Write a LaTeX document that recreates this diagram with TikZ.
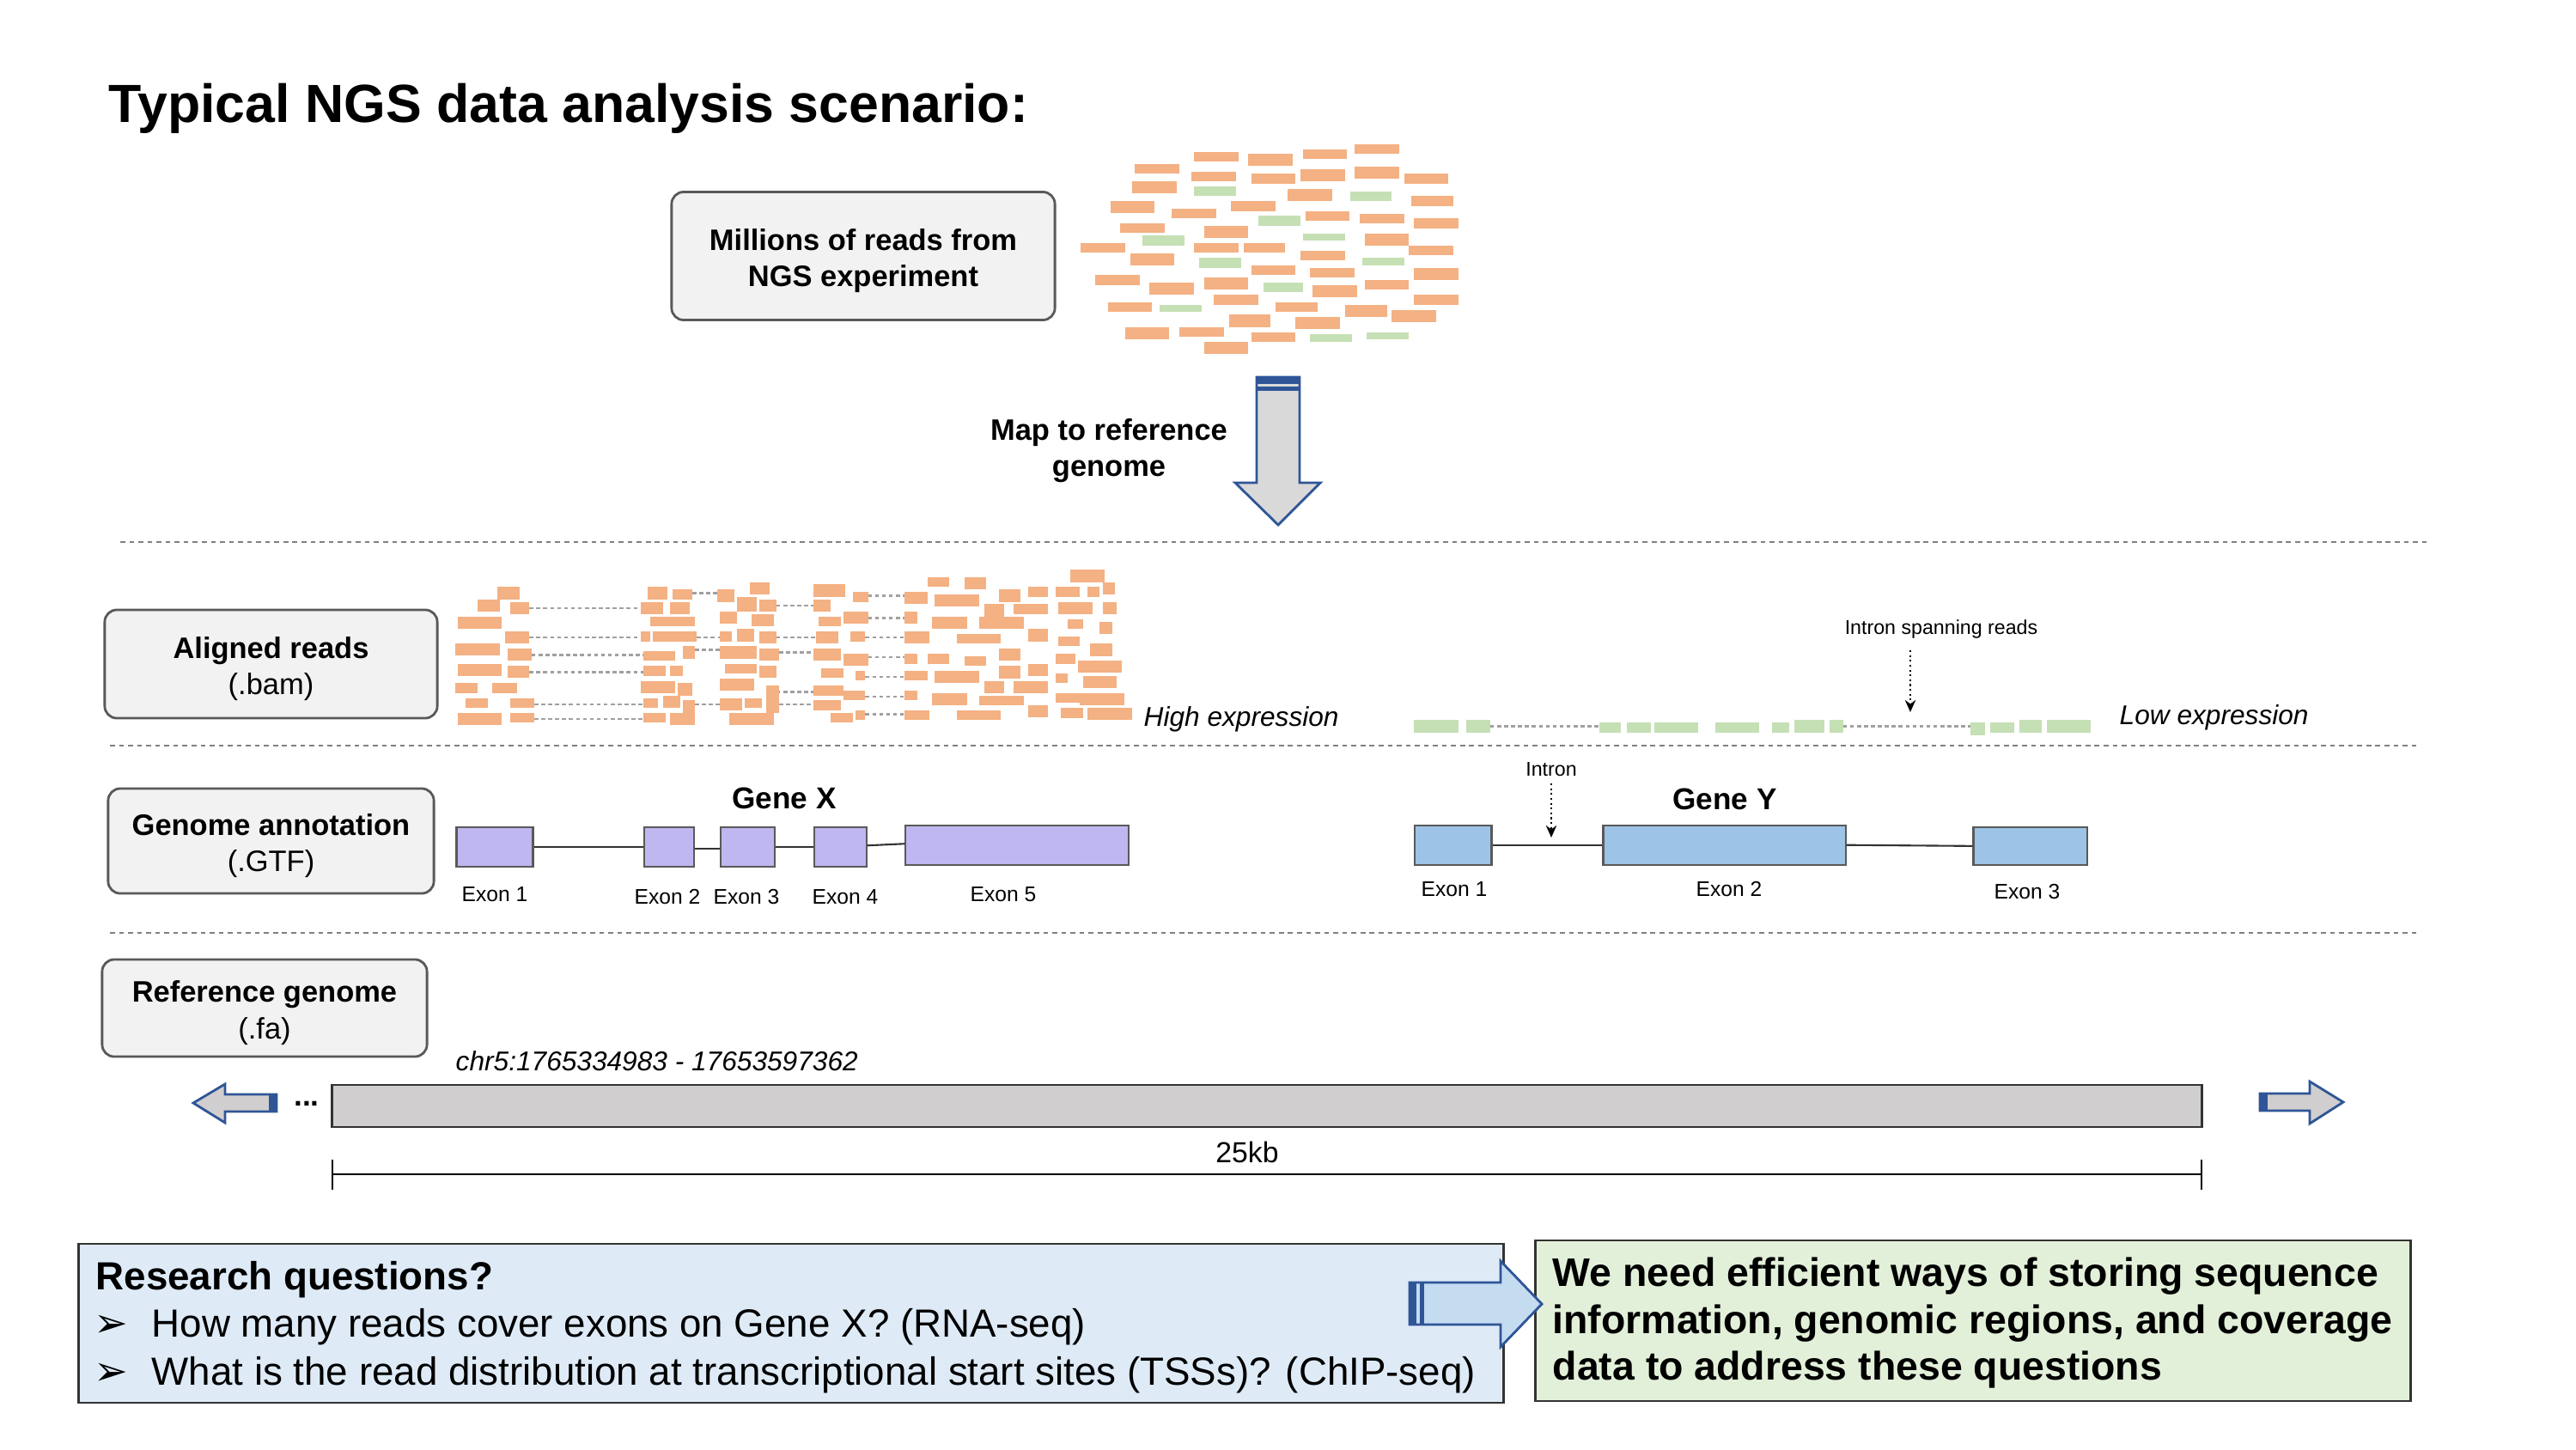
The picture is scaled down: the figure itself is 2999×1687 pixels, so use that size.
\documentclass[tikz,border=0pt]{standalone}
\usepackage{fontspec}
\setmainfont{Liberation Sans}
\newfontfamily\dejavu{DejaVu Sans}
\usetikzlibrary{arrows.meta}
\definecolor{readO}{RGB}{244,177,131}
\definecolor{readG}{RGB}{197,224,180}
\definecolor{boxgray}{RGB}{242,242,242}
\definecolor{boxline}{RGB}{89,89,89}
\definecolor{arrblue}{RGB}{47,85,151}
\definecolor{arrgray}{RGB}{217,217,217}
\definecolor{bargray}{RGB}{208,206,206}
\definecolor{exonX}{RGB}{191,183,240}
\definecolor{exonY}{RGB}{157,195,230}
\definecolor{rqblue}{RGB}{222,235,247}
\definecolor{ansgreen}{RGB}{226,240,217}
\definecolor{linkgray}{RGB}{160,160,160}
\newcommand\RdO[4]{\fill[readO] (#1,#2) rectangle (#3,#4);}
\newcommand\RdG[4]{\fill[readG] (#1,#2) rectangle (#3,#4);}
\newcommand\Lnk[3]{\draw[readlink] (#2,#1) -- (#3,#1);}
\tikzset{
  labelbox/.style={draw=boxline, fill=boxgray, line width=0.8pt, rounded corners=4pt, inner sep=0pt},
  labeltext/.style={align=center, inner sep=0pt, yshift=-0.055cm, font=\fontsize{9.8}{12}\selectfont},
  sepline/.style={draw=gray, line width=0.7pt, dash pattern=on 1.6pt off 1.4pt},
  readlink/.style={draw=linkgray, line width=0.7pt, dash pattern=on 1.3pt off 1pt},
  exonXbox/.style={draw=boxline, fill=exonX, line width=0.6pt},
  exonYbox/.style={draw=boxline, fill=exonY, line width=0.6pt},
  intronline/.style={draw=black!80, line width=0.6pt},
  exonlab/.style={font=\fontsize{7}{8}\selectfont, inner sep=0pt},
  genelab/.style={font=\bfseries\fontsize{10}{12}\selectfont, inner sep=0pt},
  smalllab/.style={font=\fontsize{6.6}{8}\selectfont, inner sep=0pt},
  blockarrow/.style={draw=arrblue, line width=0.8pt, line join=miter},
  pointer/.style={densely dotted, line width=0.6pt, -{Stealth[length=4pt,width=3.5pt]}},
}
\begin{document}
\begin{tikzpicture}[x=0.01cm, y=-0.01cm]
\useasboundingbox (0,0) rectangle (2999,1687);
\fill[white] (0,0) rectangle (2999,1687);

% Title
\node[anchor=base west, inner sep=0pt, font=\bfseries\fontsize{17.8}{21}\selectfont] (title) at (126,142) {Typical NGS data analysis scenario:};

% Millions box
\node[labelbox, minimum width=4.46cm, minimum height=1.49cm] (millions) at (1005,298) {};
\node[labeltext, font=\bfseries\fontsize{9.8}{12}\selectfont] (millionstext) at (millions.center) {Millions of reads from\\NGS experiment};

% Read cloud
\begin{scope}[shift={(1240,150)}, scale=0.3333]
\RdO{450}{80}{605}{113}\RdO{640}{88}{795}{130}\RdO{830}{72}{985}{105}\RdO{1012}{55}{1167}{88}
\RdO{243}{123}{398}{157}\RdO{442}{150}{597}{183}\RdO{650}{157}{805}{191}\RdO{822}{140}{977}{183}
\RdO{1012}{132}{1167}{174}\RdO{1184}{157}{1339}{191}\RdO{235}{184}{390}{226}\RdG{451}{201}{597}{235}
\RdO{778}{209}{933}{252}\RdG{995}{218}{1141}{252}\RdO{1210}{235}{1356}{269}\RdO{158}{253}{312}{295}
\RdO{373}{279}{528}{313}\RdO{580}{253}{735}{287}\RdG{676}{304}{822}{338}\RdO{839}{287}{994}{321}
\RdO{1029}{296}{1184}{330}\RdO{1219}{313}{1373}{347}\RdO{193}{330}{347}{364}\RdO{485}{339}{640}{382}
\RdG{269}{373}{416}{407}\RdG{830}{365}{977}{390}\RdO{1046}{365}{1201}{407}\RdO{54}{399}{209}{433}
\RdO{451}{399}{605}{433}\RdO{623}{399}{769}{433}\RdO{1201}{407}{1356}{442}\RdO{227}{434}{381}{476}
\RdG{468}{451}{614}{485}\RdO{822}{425}{977}{459}\RdG{1037}{451}{1184}{476}\RdO{650}{477}{805}{511}
\RdO{856}{486}{1011}{520}\RdO{1219}{486}{1373}{528}\RdO{106}{511}{261}{545}\RdO{295}{537}{450}{579}
\RdO{485}{520}{640}{562}\RdG{692}{537}{830}{571}\RdO{865}{546}{1020}{588}\RdO{1046}{528}{1201}{562}
\RdO{149}{606}{304}{640}\RdG{330}{615}{476}{640}\RdO{520}{580}{675}{614}\RdO{736}{606}{882}{640}
\RdO{977}{615}{1124}{657}\RdO{1219}{580}{1373}{614}\RdO{1141}{632}{1296}{675}\RdO{572}{649}{718}{692}
\RdO{805}{658}{960}{700}\RdO{209}{692}{364}{735}\RdO{399}{692}{554}{726}\RdO{650}{710}{805}{744}
\RdG{856}{718}{1003}{744}\RdG{1054}{710}{1201}{735}\RdO{485}{744}{640}{787}
\end{scope}

% Map arrow
\draw[blockarrow, fill=arrgray] (1463,439) -- (1513,439) -- (1513,562) -- (1537,562) -- (1488,611) -- (1438,562) -- (1463,562) -- cycle;
\fill[arrblue] (1463,439) rectangle (1513,447);
\fill[arrblue] (1463,450) rectangle (1513,455);
\node[labeltext, font=\bfseries\fontsize{9.8}{12}\selectfont] (maplab) at (1291,519) {Map to reference\\genome};

% Separator lines
\draw[sepline] (140,631) -- (2825,631);
\draw[sepline] (128,868) -- (2817,868);
\draw[sepline] (128,1086) -- (2817,1086);

% Aligned reads box
\node[labelbox, minimum width=3.87cm, minimum height=1.26cm] (aligned) at (315.5,773) {};
\node[labeltext] (alignedtext) at (aligned.center) {\textbf{Aligned reads}\\(.bam)};

% Aligned reads (high expression)
\begin{scope}[shift={(520,650)}, xscale=0.523, yscale=0.3333]
\Lnk{174}{184}{432}\Lnk{276}{184}{432}\Lnk{337}{189}{437}\Lnk{397}{184}{437}\Lnk{510}{195}{437}\Lnk{561}{195}{437}
\Lnk{121}{547}{602}\Lnk{276}{557}{608}\Lnk{319}{553}{608}\Lnk{510}{553}{608}
\Lnk{165}{734}{816}\Lnk{276}{734}{822}\Lnk{328}{740}{816}\Lnk{466}{734}{816}\Lnk{510}{740}{816}
\Lnk{130}{938}{1020}\Lnk{208}{938}{1020}\Lnk{276}{932}{1020}\Lnk{345}{938}{1020}\Lnk{414}{932}{1020}\Lnk{483}{932}{1020}\Lnk{544}{932}{1020}
% group 1
\RdO{113}{100}{162}{143}\RdO{69}{144}{118}{186}\RdO{141}{152}{184}{195}\RdO{25}{204}{123}{246}
\RdO{130}{256}{184}{297}\RdO{20}{298}{118}{340}\RdO{135}{316}{189}{358}\RdO{25}{368}{123}{410}
\RdO{135}{376}{184}{418}\RdO{20}{436}{69}{470}\RdO{102}{436}{156}{470}\RdO{42}{488}{91}{522}
\RdO{141}{488}{195}{522}\RdO{25}{540}{123}{582}\RdO{141}{540}{195}{574}
% group 2
\RdO{448}{100}{491}{143}\RdO{503}{108}{547}{143}\RdO{432}{152}{481}{195}\RdO{498}{152}{542}{195}
\RdO{454}{204}{553}{238}\RdO{432}{256}{454}{290}\RdO{459}{256}{557}{290}\RdO{438}{324}{509}{358}
\RdO{525}{307}{553}{350}\RdO{438}{376}{487}{410}\RdO{498}{376}{525}{410}\RdO{432}{428}{509}{470}
\RdO{514}{436}{547}{479}\RdO{438}{488}{470}{522}\RdO{481}{480}{520}{522}\RdO{525}{496}{553}{540}
\RdO{438}{540}{487}{574}\RdO{498}{540}{553}{582}
% group 3
\RdO{674}{84}{718}{126}\RdO{602}{108}{640}{152}\RdO{646}{134}{690}{186}\RdO{696}{143}{734}{186}
\RdO{608}{186}{646}{229}\RdO{679}{195}{729}{238}\RdO{608}{256}{635}{290}\RdO{646}{247}{685}{290}
\RdO{696}{256}{734}{298}\RdO{608}{307}{690}{350}\RdO{696}{316}{740}{358}\RdO{619}{368}{690}{402}
\RdO{696}{376}{734}{418}\RdO{608}{419}{685}{462}\RdO{712}{445}{740}{488}\RdO{608}{488}{657}{531}
\RdO{663}{488}{701}{522}\RdO{712}{488}{740}{540}\RdO{630}{540}{729}{582}
% group 4
\RdO{816}{91}{888}{134}\RdO{904}{117}{938}{152}\RdO{816}{143}{855}{186}\RdO{827}{204}{877}{238}
\RdO{883}{186}{938}{229}\RdO{822}{256}{871}{298}\RdO{899}{256}{932}{290}\RdO{816}{316}{877}{358}
\RdO{883}{333}{938}{376}\RdO{833}{384}{883}{418}\RdO{910}{393}{932}{427}\RdO{816}{445}{883}{479}
\RdO{883}{462}{932}{496}\RdO{816}{496}{877}{531}\RdO{855}{540}{904}{574}\RdO{910}{531}{932}{565}
% group 5
\RdO{1020}{117}{1070}{160}\RdO{1070}{66}{1119}{100}\RdO{1152}{66}{1201}{108}\RdO{1086}{126}{1185}{169}
\RdO{1020}{186}{1048}{229}\RdO{1196}{160}{1240}{204}\RdO{1229}{108}{1278}{152}\RdO{1295}{100}{1339}{134}
\RdO{1262}{160}{1339}{195}\RdO{1080}{204}{1158}{247}\RdO{1185}{204}{1284}{247}\RdO{1020}{256}{1075}{298}
\RdO{1136}{264}{1234}{298}\RdO{1295}{247}{1339}{290}\RdO{1020}{333}{1048}{368}\RdO{1070}{333}{1119}{368}
\RdO{1152}{341}{1201}{376}\RdO{1229}{316}{1278}{358}\RdO{1020}{393}{1070}{427}\RdO{1086}{393}{1185}{436}
\RdO{1229}{376}{1278}{419}\RdO{1295}{368}{1339}{410}\RdO{1196}{428}{1240}{470}\RdO{1262}{428}{1339}{470}
\RdO{1020}{462}{1048}{496}\RdO{1080}{471}{1158}{514}\RdO{1185}{479}{1284}{514}\RdO{1295}{514}{1339}{556}
\RdO{1020}{531}{1075}{565}\RdO{1136}{531}{1234}{565}\RdO{1389}{40}{1465}{83}\RdO{1356}{100}{1410}{134}
\RdO{1427}{100}{1454}{134}\RdO{1460}{83}{1487}{126}\RdO{1361}{152}{1438}{195}\RdO{1460}{152}{1492}{195}
\RdO{1383}{212}{1416}{247}\RdO{1454}{221}{1481}{264}\RdO{1361}{272}{1410}{307}\RdO{1432}{298}{1481}{341}
\RdO{1356}{333}{1400}{368}\RdO{1405}{358}{1503}{400}\RdO{1356}{402}{1383}{436}\RdO{1416}{410}{1492}{453}
\RdO{1356}{471}{1410}{505}\RdO{1410}{471}{1509}{514}\RdO{1367}{522}{1416}{557}\RdO{1427}{522}{1525}{565}
\end{scope}
\node[anchor=west, inner sep=0pt, font=\itshape\fontsize{9}{11}\selectfont] (highexp) at (1331,837) {High expression};

% Low expression reads
\begin{scope}[shift={(1620,700)}, xscale=0.542, yscale=0.3333]
\Lnk{437}{212}{446}\Lnk{437}{970}{1243}
\RdG{48}{415}{143}{459}\RdG{160}{415}{212}{459}\RdG{446}{424}{492}{459}\RdG{505}{424}{557}{459}
\RdG{564}{424}{658}{459}\RdG{696}{424}{790}{459}\RdG{818}{424}{855}{459}\RdG{866}{415}{929}{459}
\RdG{940}{415}{970}{459}\RdG{1243}{424}{1274}{467}\RdG{1286}{424}{1337}{459}\RdG{1349}{415}{1396}{459}
\RdG{1408}{415}{1502}{459}
\end{scope}
\node[anchor=west, inner sep=0pt, font=\itshape\fontsize{9}{11}\selectfont] (lowexp) at (2467,835) {Low expression};
\node[smalllab] (spanlab) at (2260,732) {Intron spanning reads};
\coordinate (spantip) at (2224,829);
\draw[pointer] (2224,757) -- (spantip);

% Genome annotation box
\node[labelbox, minimum width=3.79cm, minimum height=1.22cm] (annot) at (315.5,979) {};
\node[labeltext] (annottext) at (annot.center) {\textbf{Genome annotation}\\(.GTF)};

% Gene X
\node[genelab] (genex) at (913,929) {Gene X};
\node[exonXbox, minimum width=0.889cm, minimum height=0.46cm, inner sep=0pt] (x1) at (576,986) {};
\node[exonXbox, minimum width=0.576cm, minimum height=0.46cm, inner sep=0pt] (x2) at (779,986) {};
\node[exonXbox, minimum width=0.63cm, minimum height=0.46cm, inner sep=0pt] (x3) at (870.5,986) {};
\node[exonXbox, minimum width=0.61cm, minimum height=0.46cm, inner sep=0pt] (x4) at (978.5,986) {};
\node[exonXbox, minimum width=2.595cm, minimum height=0.46cm, inner sep=0pt] (x5) at (1184.25,984) {};
\draw[intronline] (x1.east) -- (x2.west);
\draw[intronline] ([yshift=-0.5pt]x2.east) -- ([yshift=-0.5pt]x3.west);
\draw[intronline] (x3.east) -- (x4.west);
\draw[intronline] ([yshift=0.5pt]x4.east) -- ([yshift=0.5pt]x5.west);
\node[exonlab] (lx1) at (576,1041) {Exon 1};
\node[exonlab] (lx2) at (777,1044) {Exon 2};
\node[exonlab] (lx3) at (869,1044) {Exon 3};
\node[exonlab] (lx4) at (984,1044) {Exon 4};
\node[exonlab] (lx5) at (1168,1041) {Exon 5};

% Gene Y
\node[genelab] (geney) at (2008,930) {Gene Y};
\node[exonYbox, minimum width=0.895cm, minimum height=0.46cm, inner sep=0pt] (y1) at (1691.75,983.7) {};
\node[exonYbox, minimum width=2.819cm, minimum height=0.46cm, inner sep=0pt] (y2) at (2007.55,983.7) {};
\node[exonYbox, minimum width=1.325cm, minimum height=0.437cm, inner sep=0pt] (y3) at (2363.75,984.85) {};
\draw[intronline] (y1.east) -- (y2.west);
\draw[intronline] (y2.east) -- (y3.west);
\node[exonlab] (ly1) at (1693,1035) {Exon 1};
\node[exonlab] (ly2) at (2013,1035) {Exon 2};
\node[exonlab] (ly3) at (2360,1038) {Exon 3};
\node[smalllab] (intronlab) at (1806,896) {Intron};
\coordinate (introntip) at (1806,975);
\draw[pointer] (1806,912) -- (introntip);

% Reference genome box
\node[labelbox, minimum width=3.78cm, minimum height=1.13cm] (refg) at (308,1173.5) {};
\node[labeltext] (refgtext) at (refg.center) {\textbf{Reference genome}\\(.fa)};
\node[anchor=west, inner sep=0pt, font=\itshape\fontsize{9}{11}\selectfont] (chrlab) at (530,1235) {chr5:1765334983 - 17653597362};
\node[draw=black!80, fill=bargray, line width=0.7pt, minimum width=21.76cm, minimum height=0.49cm, inner sep=0pt] (chrbar) at (1475,1287.5) {};
\node[inner sep=0pt, font=\bfseries\fontsize{10}{12}\selectfont] (dots) at (357,1285) {...};
% left / right arrows
\draw[blockarrow, fill=bargray] (322,1274) -- (262,1274) -- (262,1262) -- (225,1284) -- (262,1307) -- (262,1294) -- (322,1294) -- cycle;
\fill[arrblue] (313,1274) rectangle (322,1294);
\draw[blockarrow, fill=bargray] (2631,1273) -- (2689,1273) -- (2689,1259) -- (2728,1283) -- (2689,1308) -- (2689,1293) -- (2631,1293) -- cycle;
\fill[arrblue] (2631,1273) rectangle (2640,1293);
% scale bar
\coordinate (sbl) at (387,1367);
\coordinate (sbr) at (2563,1367);
\draw[line width=0.8pt] (sbl) -- (sbr);
\draw[line width=0.8pt] ([yshift=0.17cm]sbl) -- ([yshift=-0.18cm]sbl);
\draw[line width=0.8pt] ([yshift=0.17cm]sbr) -- ([yshift=-0.18cm]sbr);
\node[inner sep=0pt, font=\fontsize{9.6}{11}\selectfont] (kb) at (1452,1341) {25kb};

% Research questions box
\node[draw=black!80, fill=rqblue, line width=0.8pt, minimum width=16.58cm, minimum height=1.85cm, inner sep=0pt] (rq) at (921,1540.5) {};
\node[anchor=base west, inner sep=0pt, font=\bfseries\fontsize{13}{15}\selectfont] (rqt) at (111,1501) {Research questions?};
\node[anchor=base west, inner sep=0pt, font=\dejavu\fontsize{13.5}{15}\selectfont] (b1) at (109,1556) {➢};
\node[anchor=base west, inner sep=0pt, font=\fontsize{13}{15}\selectfont] (q1) at (176,1556) {How many reads cover exons on Gene X? (RNA-seq)};
\node[anchor=base west, inner sep=0pt, font=\dejavu\fontsize{13.5}{15}\selectfont] (b2) at (109,1612) {➢};
\node[anchor=base west, inner sep=0pt, font=\fontsize{13}{15}\selectfont] (q2) at (176,1612) {What is the read distribution at transcriptional start sites (TSSs)? (ChIP-seq)};

% Answer box
\node[draw=black!80, fill=ansgreen, line width=0.8pt, minimum width=10.18cm, minimum height=1.87cm, inner sep=0pt] (ans) at (2297,1537.5) {};
\node[anchor=base west, inner sep=0pt, font=\bfseries\fontsize{13.2}{15}\selectfont] (a1) at (1807,1497) {We need efficient ways of storing sequence};
\node[anchor=base west, inner sep=0pt, font=\bfseries\fontsize{13.2}{15}\selectfont] (a2) at (1807,1552) {information, genomic regions, and coverage};
\node[anchor=base west, inner sep=0pt, font=\bfseries\fontsize{13.2}{15}\selectfont] (a3) at (1807,1606) {data to address these questions};

% Blue arrow
\draw[blockarrow, fill=exonY!60] (1641,1493) -- (1747,1493) -- (1747,1468) -- (1795,1518) -- (1747,1568) -- (1747,1542) -- (1641,1542) -- cycle;
\fill[arrblue] (1641,1493) rectangle (1649,1542);
\fill[arrblue] (1653,1493) rectangle (1658,1542);
\end{tikzpicture}
\end{document}
